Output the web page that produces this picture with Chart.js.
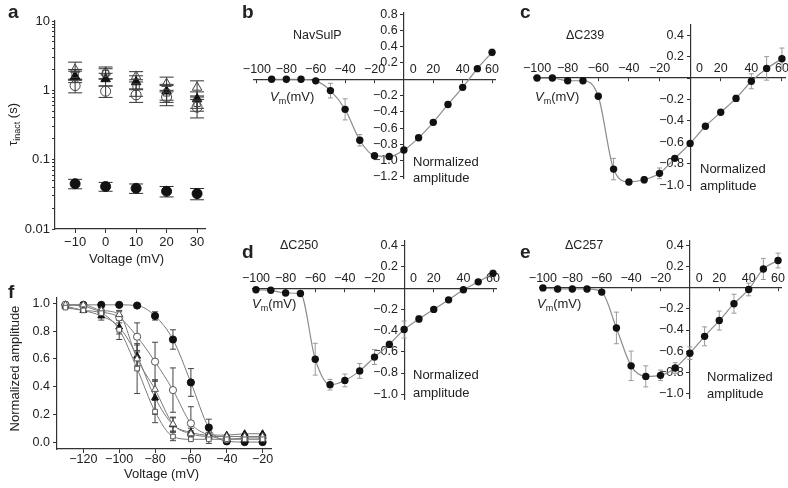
<!DOCTYPE html>
<html>
<head>
<meta charset="utf-8">
<script src="https://cdn.jsdelivr.net/npm/chart.js@4.4.1/dist/chart.umd.min.js"></script>
<style>
  body { margin: 0; background: #fff; }
  #fig { position: relative; width: 788px; height: 488px; overflow: hidden; font-family: "Liberation Sans", Arial, sans-serif; color: #222; }
  canvas { position: absolute; }
  .t { position: absolute; font-size: 13px; line-height: 1; white-space: nowrap; }
  .lbl { position: absolute; font-size: 19px; font-weight: bold; line-height: 1; }
  .rot { position: absolute; width: 160px; text-align: center; font-size: 13px; line-height: 1; transform: rotate(-90deg); white-space: nowrap; }
  sub { font-size: 9px; vertical-align: -3px; line-height: 0; }
</style>
</head>
<body>
<div id="fig">
  <canvas id="chartA"></canvas>
  <canvas id="chartB"></canvas>
  <canvas id="chartC"></canvas>
  <canvas id="chartD"></canvas>
  <canvas id="chartE"></canvas>
  <canvas id="chartF"></canvas>

  <div class="lbl" style="left:8px;top:2px">a</div>
  <div class="lbl" style="left:242px;top:2px">b</div>
  <div class="lbl" style="left:520px;top:2px">c</div>
  <div class="lbl" style="left:242px;top:242px">d</div>
  <div class="lbl" style="left:520px;top:242px">e</div>
  <div class="lbl" style="left:8px;top:282px">f</div>

  <div class="rot" style="left:-68px;top:118px">&tau;<sub>inact</sub> (s)</div>
  <div class="t" style="left:89px;top:252px">Voltage (mV)</div>

  <div class="t" style="left:293px;top:29px;font-size:12.5px">NavSulP</div>
  <div class="t" style="left:566px;top:29px;font-size:12.5px">&Delta;C239</div>
  <div class="t" style="left:280px;top:239px;font-size:12.5px">&Delta;C250</div>
  <div class="t" style="left:565px;top:239px;font-size:12.5px">&Delta;C257</div>

  <div class="t" style="left:270px;top:90px"><i>V</i><sub>m</sub>(mV)</div>
  <div class="t" style="left:535px;top:90px"><i>V</i><sub>m</sub>(mV)</div>
  <div class="t" style="left:252px;top:297px"><i>V</i><sub>m</sub>(mV)</div>
  <div class="t" style="left:537px;top:297px"><i>V</i><sub>m</sub>(mV)</div>

  <div class="t" style="left:413px;top:154px;line-height:16px">Normalized<br>amplitude</div>
  <div class="t" style="left:700px;top:160px;line-height:17px">Normalized<br>amplitude</div>
  <div class="t" style="left:413px;top:366px;line-height:18px">Normalized<br>amplitude</div>
  <div class="t" style="left:707px;top:368px;line-height:17px">Normalized<br>amplitude</div>

  <div class="rot" style="left:-66px;top:362px">Normalized amplitude</div>
  <div class="t" style="left:124px;top:467px">Voltage (mV)</div>
</div>

<script>
/* ------------------------------
   DATA
--------------------------------*/

// panel a: inactivation time constant (s)
const voltA = [-10, 0, 10, 20, 30];
const tauFilledCircle = [0.045, 0.041, 0.0386, 0.035, 0.0324];
const tauFilledCircleErr = [0.007, 0.006, 0.006, 0.006, 0.006];
const tauOpenCircle = [1.17, 0.97, 0.86, 0.8, 0.57];
const tauOpenCircleErr = [0.25, 0.18, 0.19, 0.2, 0.17];
const tauFilledTri = [1.59, 1.46, 1.32, 0.97, 0.75];
const tauFilledTriErr = [0.3, 0.3, 0.3, 0.25, 0.2];
const tauOpenTri = [2.0, 1.82, 1.59, 1.25, 1.1];
const tauOpenTriErr = [0.55, 0.35, 0.27, 0.3, 0.27];
const tauOpenSquare = [1.7, 1.75, 1.12, 0.92, 0.65];
const tauOpenSquareErr = [0.3, 0.3, 0.3, 0.25, 0.15];
const tauTicks = [0.01, 0.1, 1, 10];

// panels b-e: normalized I-V
const voltB = [-90, -80, -70, -60, -50, -40, -30, -20, -10, 0, 10, 20, 30, 40, 50, 60];
const ampB = [0, 0, 0, -0.02, -0.14, -0.37, -0.75, -0.94, -0.95, -0.87, -0.72, -0.53, -0.31, -0.10, 0.13, 0.33];
const errB = [0, 0, 0, 0, 0.09, 0.13, 0.07, 0.02, 0.02, 0.02, 0.02, 0.03, 0.03, 0.03, 0.02, 0.04];

const voltIV = [-100, -90, -80, -70, -60, -50, -40, -30, -20, -10, 0, 10, 20, 30, 40, 50, 60];
const ampC = [0, 0, -0.025, -0.025, -0.17, -0.85, -0.97, -0.95, -0.89, -0.75, -0.61, -0.45, -0.32, -0.19, -0.03, 0.09, 0.18];
const errC = [0, 0, 0, 0, 0, 0.1, 0.02, 0.03, 0.05, 0.02, 0.01, 0.01, 0.01, 0.03, 0.07, 0.11, 0.1];
const ampD = [-0.015, -0.02, -0.045, -0.05, -0.67, -0.91, -0.87, -0.78, -0.65, -0.53, -0.39, -0.29, -0.2, -0.11, -0.015, 0.06, 0.14];
const errD = [0, 0, 0, 0, 0.15, 0.05, 0.06, 0.07, 0.07, 0.03, 0.08, 0.03, 0.02, 0.02, 0.02, 0.02, 0.03];
const ampE = [0, -0.01, -0.01, -0.01, -0.04, -0.38, -0.74, -0.84, -0.83, -0.76, -0.62, -0.46, -0.31, -0.15, -0.015, 0.18, 0.26];
const errE = [0, 0, 0, 0, 0, 0.15, 0.14, 0.1, 0.05, 0.05, 0.06, 0.09, 0.09, 0.09, 0.06, 0.1, 0.07];

const ivXTicks = [-100, -80, -60, -40, -20, 0, 20, 40, 60];
const ivYTicksB = [-1.2, -1.0, -0.8, -0.6, -0.4, -0.2, 0, 0.2, 0.4, 0.6, 0.8];
const ivYTicksC = [-1.0, -0.8, -0.6, -0.4, -0.2, 0, 0.2, 0.4];

// panel f: steady-state inactivation
const voltF = [-130, -120, -110, -100, -90, -80, -70, -60, -50, -40, -30, -20];
const ssFilledCircle = [0.99, 0.99, 0.99, 0.99, 0.985, 0.91, 0.74, 0.43, 0.105, 0.005, 0.0, 0.0];
const ssFilledCircleErr = [0, 0, 0, 0, 0.01, 0.03, 0.07, 0.1, 0.06, 0, 0, 0];
const ssOpenCircle = [0.99, 0.98, 0.94, 0.9, 0.76, 0.58, 0.375, 0.135, 0.05, 0.02, 0.03, 0.03];
const ssOpenCircleErr = [0, 0, 0.02, 0.04, 0.1, 0.14, 0.16, 0.12, 0.06, 0, 0, 0];
const ssFilledTri = [0.98, 0.95, 0.91, 0.83, 0.62, 0.32, 0.125, 0.07, 0.05, 0.05, 0.06, 0.06];
const ssFilledTriErr = [0, 0.01, 0.03, 0.05, 0.08, 0.12, 0.05, 0.03, 0.02, 0, 0, 0];
const ssOpenTri = [0.99, 0.99, 0.95, 0.92, 0.6, 0.38, 0.13, 0.06, 0.04, 0.04, 0.04, 0.04];
const ssOpenTriErr = [0, 0, 0.02, 0.03, 0.05, 0.07, 0.05, 0.02, 0, 0, 0, 0];
const ssOpenSquare = [0.97, 0.95, 0.93, 0.81, 0.53, 0.22, 0.04, 0.02, 0.02, 0.02, 0.02, 0.02];
const ssOpenSquareErr = [0, 0, 0, 0.07, 0.18, 0.08, 0.03, 0, 0, 0, 0, 0];
const fXTicks = [-120, -100, -80, -60, -40, -20];
const fYTicks = [0, 0.2, 0.4, 0.6, 0.8, 1.0];

/* ------------------------------
   HELPERS
--------------------------------*/

const FONT = "'Liberation Sans', Arial, sans-serif";
Chart.defaults.font.family = FONT;
Chart.defaults.color = '#222';

const minus = v => (v < 0 ? '\u2212' + Math.abs(v) : String(v));

// vertical error bars, drawn before the points
const errorBars = {
    id: 'errorBars',
    beforeDatasetsDraw(chart) {
        const ctx = chart.ctx;
        const xs = chart.scales.x, ys = chart.scales.y;
        chart.data.datasets.forEach(ds => {
            if (!ds.errors) return;
            ctx.save();
            ctx.strokeStyle = ds.errorColor || '#999';
            ctx.lineWidth = 1;
            const cap = ds.capWidth || 3;
            ds.data.forEach((p, j) => {
                const e = ds.errors[j];
                if (!e) return;
                const px = xs.getPixelForValue(p.x);
                const y1 = ys.getPixelForValue(p.y - e);
                const y2 = ys.getPixelForValue(p.y + e);
                ctx.beginPath();
                ctx.moveTo(px, y1); ctx.lineTo(px, y2);
                ctx.moveTo(px - cap, y1); ctx.lineTo(px + cap, y1);
                ctx.moveTo(px - cap, y2); ctx.lineTo(px + cap, y2);
                ctx.stroke();
            });
            ctx.restore();
        });
    }
};

const pts = (xs, ys) => xs.map((x, i) => ({ x: x, y: ys[i] }));

function place(id, left, top, w, h) {
    const cv = document.getElementById(id);
    cv.width = w; cv.height = h;
    cv.style.left = left + 'px';
    cv.style.top = top + 'px';
    return cv;
}

/* ------------------------------
   I-V PANELS (b-e), crossed axes
--------------------------------*/

function ivChart(id, area, volts, amps, errs, yMin, yMax, yTicks) {
    const [L, T, R, B] = area;
    const cv = place(id, L - 30, T - 10, R - L + 60, B - T + 20);
    return new Chart(cv, {
        type: 'scatter',
        data: {
            datasets: [{
                data: pts(volts, amps),
                errors: errs,
                errorColor: '#9a9a9a',
                capWidth: 2.5,
                showLine: true,
                borderColor: '#8c8c8c',
                borderWidth: 1.2,
                cubicInterpolationMode: 'monotone',
                pointRadius: 3.7,
                pointBackgroundColor: '#111',
                pointBorderColor: '#111',
                pointBorderWidth: 0,
                clip: false
            }]
        },
        options: {
            responsive: false, animation: false, devicePixelRatio: 1,
            layout: { padding: { left: 30, right: 30, top: 10, bottom: 10 } },
            plugins: { legend: { display: false }, tooltip: { enabled: false } },
            scales: {
                x: {
                    type: 'linear', min: -102, max: 62, position: { y: 0 },
                    afterBuildTicks: s => { s.ticks = ivXTicks.map(v => ({ value: v })); },
                    grid: { drawOnChartArea: false, tickLength: 3, color: '#333' },
                    border: { color: '#333', width: 1.2 },
                    ticks: {
                        padding: -20, maxRotation: 0, autoSkip: false, color: '#222',
                        font: { size: 12.5 },
                        callback: v => (v === 0 ? '\u2002\u2002\u20020' : minus(v))
                    }
                },
                y: {
                    type: 'linear', min: yMin, max: yMax, position: { x: 0 },
                    afterBuildTicks: s => { s.ticks = yTicks.map(v => ({ value: v })); },
                    grid: { drawOnChartArea: false, tickLength: 3, color: '#333' },
                    border: { color: '#333', width: 1.2 },
                    ticks: {
                        autoSkip: false, color: '#222', font: { size: 12.5 },
                        callback: v => (v === 0 ? '' : (v < 0 ? '\u2212' : '') + Math.abs(v).toFixed(1) + '\u2002')
                    }
                }
            }
        },
        plugins: [errorBars]
    });
}

ivChart('chartB', [254, 12, 495, 179], voltB, ampB, errB, -1.22, 0.82, ivYTicksB);
ivChart('chartC', [534, 24, 785, 191], voltIV, ampC, errC, -1.05, 0.5, ivYTicksC);
ivChart('chartD', [253, 240, 496, 400], voltIV, ampD, errD, -1.05, 0.45, ivYTicksC);
ivChart('chartE', [540, 240, 781, 399], voltIV, ampE, errE, -1.05, 0.45, ivYTicksC);

/* ------------------------------
   PANEL A (log tau)
--------------------------------*/

const logTickValues = [];
[0.01, 0.1, 1].forEach(d => {
    for (let k = 1; k <= 9; k++) logTickValues.push(Number((d * k).toPrecision(3)));
});
logTickValues.push(10);

function marker(label, xs, ys, errs, style, filled, r) {
    return {
        label: label,
        data: pts(xs, ys),
        errors: errs,
        errorColor: '#333',
        pointStyle: style,
        pointRadius: r,
        pointBackgroundColor: filled ? '#111' : 'rgba(0,0,0,0)',
        pointBorderColor: filled ? '#111' : '#444',
        pointBorderWidth: 1,
        showLine: false,
        clip: false
    };
}

const dsA = [
    marker('open circle', voltA, tauOpenCircle, tauOpenCircleErr, 'circle', false, 5),
    marker('open square', voltA, tauOpenSquare, tauOpenSquareErr, 'rect', false, 4.5),
    marker('open triangle', voltA, tauOpenTri, tauOpenTriErr, 'triangle', false, 5.5),
    marker('filled triangle', voltA, tauFilledTri, tauFilledTriErr, 'triangle', true, 5.5),
    marker('filled circle', voltA, tauFilledCircle, tauFilledCircleErr, 'circle', true, 5)
];
dsA.forEach(d => { d.capWidth = 7; });

new Chart(place('chartA', 10, 11, 205, 243), {
    type: 'scatter',
    data: { datasets: dsA },
    options: {
        responsive: false, animation: false, devicePixelRatio: 1,
        layout: { padding: { left: 0, right: 10, top: 10, bottom: 0 } },
        plugins: { legend: { display: false }, tooltip: { enabled: false } },
        scales: {
            x: {
                type: 'linear', min: -16.6, max: 32.6,
                afterBuildTicks: s => { s.ticks = voltA.map(v => ({ value: v })); },
                afterFit: s => { s.height = 25; },
                grid: { drawOnChartArea: false, tickLength: 4, color: '#333' },
                border: { color: '#333', width: 1.2 },
                ticks: { padding: 2, maxRotation: 0, autoSkip: false, font: { size: 13 }, callback: v => minus(v) }
            },
            y: {
                type: 'logarithmic', min: 0.01, max: 10,
                afterBuildTicks: s => { s.ticks = logTickValues.map(v => ({ value: v })); },
                afterFit: s => { s.width = 45; },
                grid: { drawOnChartArea: false, tickLength: 3, color: '#333' },
                border: { color: '#333', width: 1.2 },
                ticks: { padding: 2, autoSkip: false, font: { size: 13 }, callback: v => (tauTicks.includes(v) ? String(v) : '') }
            }
        }
    },
    plugins: [errorBars]
});

/* ------------------------------
   PANEL F (steady-state inactivation)
--------------------------------*/

function curve(label, ys, errs, style, filled, r) {
    return {
        label: label,
        data: pts(voltF, ys),
        errors: errs,
        errorColor: '#444',
        capWidth: 3,
        showLine: true,
        borderColor: '#7a7a7a',
        borderWidth: 1,
        cubicInterpolationMode: 'monotone',
        pointStyle: style,
        pointRadius: r,
        pointBackgroundColor: filled ? '#111' : '#fff',
        pointBorderColor: filled ? '#111' : '#555',
        pointBorderWidth: 1,
        clip: false
    };
}

new Chart(place('chartF', 12, 287, 267, 187), {
    type: 'scatter',
    data: {
        datasets: [
            curve('open square', ssOpenSquare, ssOpenSquareErr, 'rect', false, 3.3),
            curve('open triangle', ssOpenTri, ssOpenTriErr, 'triangle', false, 4),
            curve('filled triangle', ssFilledTri, ssFilledTriErr, 'triangle', true, 4),
            curve('open circle', ssOpenCircle, ssOpenCircleErr, 'circle', false, 3.6),
            curve('filled circle', ssFilledCircle, ssFilledCircleErr, 'circle', true, 3.6)
        ]
    },
    options: {
        responsive: false, animation: false, devicePixelRatio: 1,
        layout: { padding: { left: 0, right: 8, top: 8, bottom: 0 } },
        plugins: { legend: { display: false }, tooltip: { enabled: false } },
        scales: {
            x: {
                type: 'linear', min: -134.7, max: -15.3,
                afterBuildTicks: s => { s.ticks = fXTicks.map(v => ({ value: v })); },
                afterFit: s => { s.height = 25; },
                grid: { drawOnChartArea: false, tickLength: 4, color: '#333' },
                border: { color: '#333', width: 1.2 },
                ticks: { padding: -1, maxRotation: 0, autoSkip: false, font: { size: 12.5 }, callback: v => minus(v) }
            },
            y: {
                type: 'linear', min: -0.05, max: 1.043,
                afterBuildTicks: s => { s.ticks = fYTicks.map(v => ({ value: v })); },
                afterFit: s => { s.width = 45; },
                grid: { drawOnChartArea: false, tickLength: 4, color: '#333' },
                border: { color: '#333', width: 1.2 },
                ticks: { padding: 3, autoSkip: false, font: { size: 12.5 }, callback: v => v.toFixed(1) }
            }
        }
    },
    plugins: [errorBars]
});
</script>
</body>
</html>
